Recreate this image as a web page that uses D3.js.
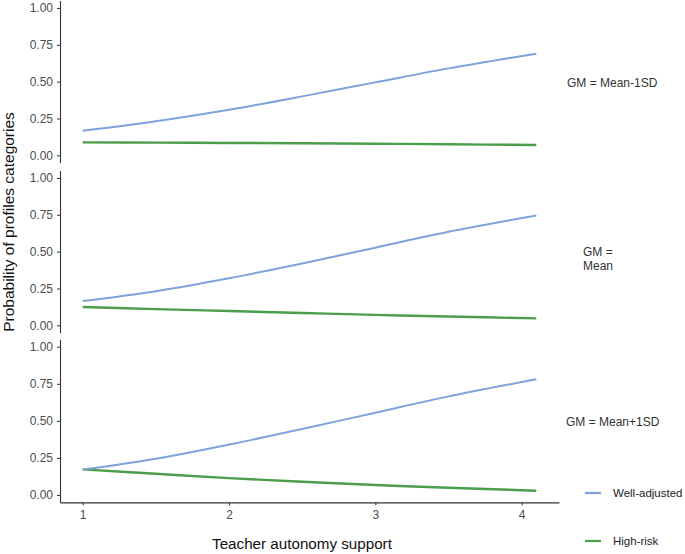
<!DOCTYPE html>
<html>
<head>
<meta charset="utf-8">
<script src="https://cdn.jsdelivr.net/npm/d3@7"></script>
<style>
  html, body { margin: 0; padding: 0; background: #fff; }
  svg { display: block; font-family: "Liberation Sans", Arial, sans-serif; }
</style>
</head>
<body>
<svg id="chart" width="685" height="554"></svg>
<script>
// ---- data ----
const xValues = [1, 1.5, 2, 2.5, 3, 3.5, 4.1];
const panelLabels = [["GM = Mean-1SD"], ["GM =", "Mean"], ["GM = Mean+1SD"]];
const seriesNames = ["Well-adjusted", "High-risk"];
const wellAdjusted = [
  [0.167, 0.232, 0.310, 0.400, 0.495, 0.590, 0.690],
  [0.165, 0.232, 0.320, 0.420, 0.527, 0.635, 0.745],
  [0.172, 0.245, 0.340, 0.445, 0.555, 0.665, 0.780]
];
const highRisk = [
  [0.088, 0.086, 0.084, 0.082, 0.079, 0.075, 0.070],
  [0.124, 0.110, 0.097, 0.084, 0.071, 0.060, 0.047],
  [0.173, 0.143, 0.114, 0.089, 0.067, 0.049, 0.029]
];
const xTicks = [1, 2, 3, 4];
const yTicks = [0, 0.25, 0.5, 0.75, 1];

// ---- layout ----
const svg = d3.select("#chart");
const colors = {"Well-adjusted": "#7fa2dc", "High-risk": "#4c9d4c"};
const left = 60, right = 559;
const panels = [
  {top: 0.6, bottom: 162.7},
  {top: 170.6, bottom: 332.7},
  {top: 339.3, bottom: 502.4}
];
const labelPos = [
  {x: 567, y: [87]},
  {x: 583, y: [256, 270]},
  {x: 566, y: [426]}
];

const x = d3.scaleLinear().domain([1 - 0.155, 4.1 + 0.155]).range([left, right]);

panels.forEach((p, i) => {
  const y = d3.scaleLinear().domain([-0.05, 1.05]).range([p.bottom, p.top]);
  const g = svg.append("g");

  // y axis
  const ya = g.append("g").attr("transform", `translate(${left},0)`)
    .call(d3.axisLeft(y).tickValues(yTicks).tickFormat(d3.format(".2f")).tickSizeOuter(0).tickSizeInner(3).tickPadding(4));
  ya.select(".domain").attr("stroke", "#333").attr("stroke-width", 1.1);
  ya.selectAll(".tick line").attr("stroke", "#333");
  ya.selectAll(".tick text").attr("fill", "#4d4d4d").style("font-size", "12px");

  // lines
  const line = d3.line().x((d, k) => x(xValues[k])).y(d => y(d)).curve(d3.curveCatmullRom);
  g.append("path").datum(highRisk[i]).attr("d", line)
    .attr("fill", "none").attr("stroke", colors["High-risk"]).attr("stroke-width", 2.4);
  g.append("path").datum(wellAdjusted[i]).attr("d", line)
    .attr("fill", "none").attr("stroke", colors["Well-adjusted"]).attr("stroke-width", 2);

  // strip label
  panelLabels[i].forEach((t, j) => {
    svg.append("text").attr("x", labelPos[i].x).attr("y", labelPos[i].y[j])
      .attr("fill", "#333").style("font-size", "12px").text(t);
  });

  // x axis on bottom panel only
  if (i === panels.length - 1) {
    const xa = svg.append("g").attr("transform", `translate(0,${p.bottom})`)
      .call(d3.axisBottom(x).tickValues(xTicks).tickFormat(d3.format("d")).tickSizeOuter(0).tickSizeInner(3).tickPadding(5));
    xa.select(".domain").attr("stroke", "#333").attr("stroke-width", 1.1);
    xa.selectAll(".tick line").attr("stroke", "#333");
    xa.selectAll(".tick text").attr("fill", "#4d4d4d").style("font-size", "12px");
  }
});

// axis titles
svg.append("text").attr("x", 302).attr("y", 549).attr("text-anchor", "middle")
  .attr("fill", "#111").style("font-size", "15.2px").text("Teacher autonomy support");
svg.append("text").attr("transform", "translate(14,222) rotate(-90)").attr("text-anchor", "middle")
  .attr("fill", "#111").style("font-size", "15.5px").text("Probability of profiles categories");

// legend
const legendY = [493, 541];
seriesNames.forEach((s, i) => {
  svg.append("line").attr("x1", 585).attr("x2", 601).attr("y1", legendY[i]).attr("y2", legendY[i])
    .attr("stroke", colors[s]).attr("stroke-width", 2.2);
  svg.append("text").attr("x", 613).attr("y", legendY[i] + 4).attr("fill", "#222")
    .style("font-size", "11.5px").text(s);
});
</script>
</body>
</html>
